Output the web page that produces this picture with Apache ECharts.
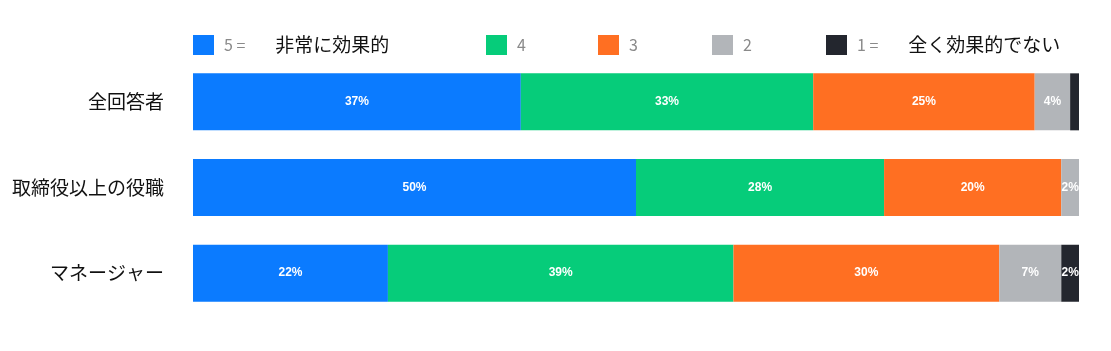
<!DOCTYPE html>
<html><head><meta charset="utf-8">
<script src="https://cdn.jsdelivr.net/npm/echarts@6/dist/echarts.min.js"></script>
<style>html,body{margin:0;padding:0;background:#fff}#c{width:1111px;height:351px}</style>
</head><body><div id="c"></div>
<script>
const categories = ['全回答者', '取締役以上の役職', 'マネージャー'];
const seriesNames = ['5', '4', '3', '2', '1'];
const s5 = [37, 50, 22];
const s4 = [33, 28, 39];
const s3 = [25, 20, 30];
const s2 = [4, 2, 7];
const s1 = [1, 0, 2];
const legendLabels = {
  '5': ['5 =', '非常に効果的'],
  '4': ['4', ''],
  '3': ['3', ''],
  '2': ['2', ''],
  '1': ['1 =', '全く効果的でない']
};
const colors = ['#0b7bff', '#06cc7a', '#ff6f22', '#b2b5b9', '#23262e'];
const values = [s5, s4, s3, s2, s1];
const legendLeft = [193, 486, 598, 712, 826];
const font = '"Noto Sans CJK JP", "Noto Sans", sans-serif';

const chart = echarts.init(document.getElementById('c'), null, {renderer: 'canvas'});
chart.setOption({
  animation: false,
  color: colors,
  legend: seriesNames.map((n, i) => ({
    data: [n],
    left: legendLeft[i],
    top: 35,
    padding: 0,
    itemWidth: 21,
    itemHeight: 20,
    itemGap: 0,
    icon: 'rect',
    selectedMode: false,
    formatter: (name) => {
      const l = legendLabels[name];
      return l[1] ? '{a|' + l[0] + '}{b|' + l[1] + '}' : '{a|' + l[0] + '}';
    },
    textStyle: {
      fontFamily: font,
      padding: [0, 0, 0, 5],
      rich: {
        a: {fontSize: 16, color: '#8a8a8a', fontFamily: font},
        b: {fontSize: 19, color: '#111', fontFamily: font, padding: [0, 0, 0, 30]}
      }
    }
  })),
  grid: {left: 193, right: 32, top: 59, bottom: 35, containLabel: false},
  xAxis: {type: 'value', min: 0, max: 100, show: false},
  yAxis: {
    type: 'category', data: categories, inverse: true,
    axisLine: {show: false}, axisTick: {show: false},
    axisLabel: {fontSize: 19, color: '#111', fontFamily: font, margin: 29}
  },
  series: seriesNames.map((n, i) => ({
    name: n, type: 'bar', stack: 'all', barWidth: 57,
    data: values[i],
    itemStyle: {color: colors[i]},
    label: {
      show: true, position: 'inside', color: '#fff', fontSize: 12, fontWeight: 'bold',
      fontFamily: '"Liberation Sans", Arial, sans-serif',
      formatter: p => p.value >= 2 ? p.value + '%' : ''
    }
  }))
});
</script></body></html>
